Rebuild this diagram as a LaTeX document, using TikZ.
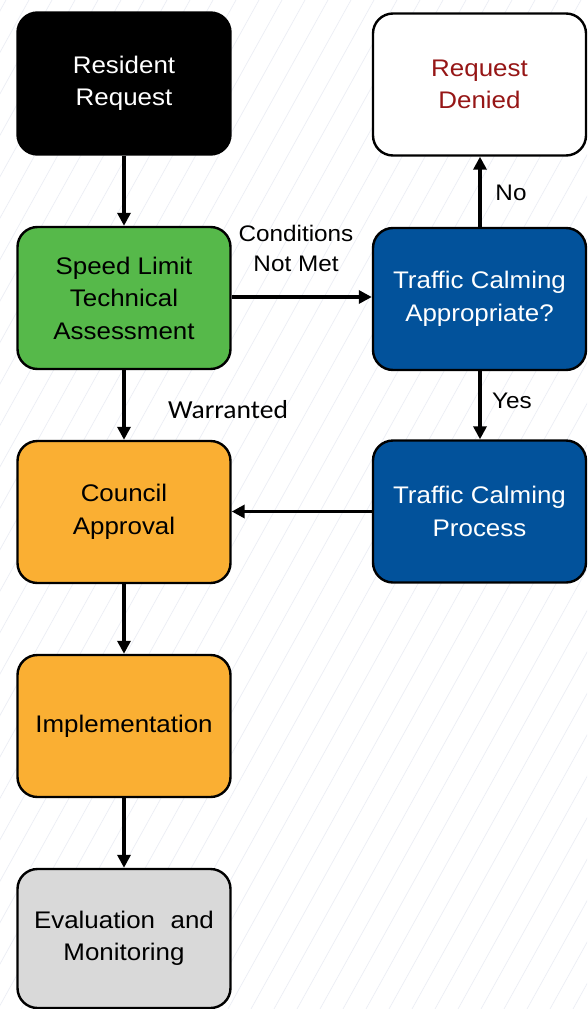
\documentclass[tikz,border=0pt]{standalone}
\usepackage{fontspec}
\setmainfont{Liberation Sans}
\newfontfamily\boxfont[FakeStretch=1.08]{Liberation Sans}
\newfontfamily\labfont[FakeStretch=1.06]{Carlito}
\usetikzlibrary{arrows.meta}
\definecolor{hatch}{RGB}{236,238,245}
\definecolor{stepgreen}{RGB}{86,185,74}
\definecolor{stepblue}{RGB}{2,82,155}
\definecolor{steporange}{RGB}{250,175,51}
\definecolor{stepgray}{RGB}{217,217,217}
\definecolor{denyred}{RGB}{150,22,22}
\tikzset{
  stepbox/.style={draw=black, line width=2.4pt, rounded corners=20pt,
    minimum width=213pt, minimum height=142pt, align=center,
    font=\boxfont\fontsize{24}{32.5}\selectfont, inner sep=0pt},
  flow/.style={line width=3.4pt, -{Triangle[length=13pt,width=13pt]}},
  lab/.style={align=center, font=\boxfont\fontsize{22.5}{30}\selectfont, inner sep=0pt}
}
\begin{document}
\begin{tikzpicture}[x=1pt,y=-1pt]
\useasboundingbox (0,0) rectangle (587,1009);
\fill[white] (0,0) rectangle (587,1009);
% faint diagonal background texture
\begin{scope}
\clip (0,0) rectangle (587,1009);
\foreach \i in {-600,-577,...,620}
  \draw[hatch, line width=0.7pt] (\i,1009) -- ({\i+560},0);
\end{scope}

\node[stepbox, fill=black, text=white] (rr) at (124,83.5) {Resident\\Request};
\node[stepbox, fill=white, text=denyred] (rd) at (479.5,84.5) {Request\\Denied};
\node[stepbox, fill=stepgreen, text=black] (sl) at (124,298) {Speed Limit\\Technical\\Assessment};
\node[stepbox, fill=stepblue, text=white] (tca) at (479.5,299) {Traffic Calming\\Appropriate?};
\node[stepbox, fill=steporange, text=black] (ca) at (124,512) {Council\\Approval};
\node[stepbox, fill=stepblue, text=white] (tcp) at (479.5,511.5) {Traffic Calming\\Process};
\node[stepbox, fill=steporange, text=black] (im) at (124,726) {Implementation};
\node[stepbox, fill=stepgray, text=black, minimum height=139pt] (ev) at (124,938.5) {Evaluation\hspace{0.35em} and\\Monitoring};

\draw[flow] (rr.south) -- (sl.north);
\draw[flow] (sl.east |- 0,297) -- (tca.west |- 0,297);
\draw[flow] (tca.north -| 480,0) -- (rd.south -| 480,0);
\draw[flow] (tca.south -| 480,0) -- (tcp.north -| 480,0);
\draw[flow] (sl.south) -- (ca.north);
\draw[flow] (tcp.west) -- (ca.east |- tcp.west);
\draw[flow] (ca.south) -- (im.north);
\draw[flow] (im.south) -- (ev.north);

\node[lab] (cnm) at (296,248.5) {Conditions\\Not Met};
\node[lab] (no) at (511,193) {No};
\node[lab] (yes) at (512,401) {Yes};
\node[font=\labfont\fontsize{26}{30}\selectfont, inner sep=0pt] (war) at (228,410) {Warranted};
\end{tikzpicture}
\end{document}
